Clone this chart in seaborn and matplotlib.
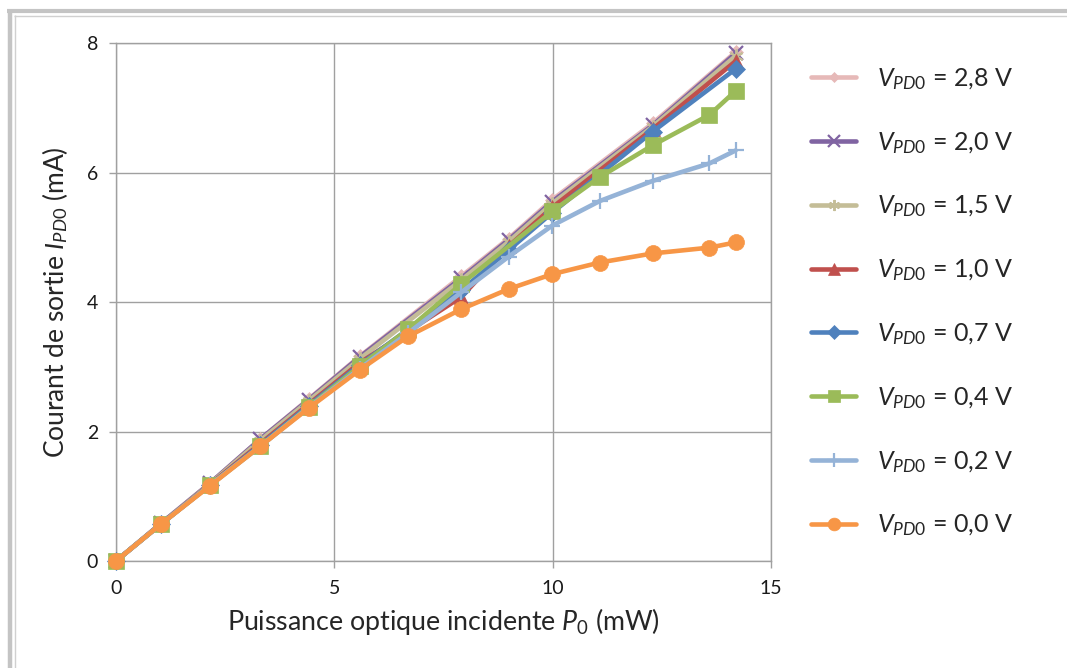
import matplotlib
matplotlib.use("Agg")
import matplotlib.pyplot as plt
from matplotlib.lines import Line2D
import seaborn as sns
import pandas as pd

# ---------------- data ----------------
v_labels = ["2,8", "2,0", "1,5", "1,0", "0,7", "0,4", "0,2", "0,0"]

x_high = [0, 1.03, 2.15, 3.30, 4.41, 5.58, 7.91, 8.99, 9.99, 12.29, 14.19]
x_v04 = [0, 1.03, 2.15, 3.30, 4.41, 5.58, 6.69, 7.91, 9.99, 11.08, 12.29, 13.59, 14.19]
x_v02 = [0, 1.03, 2.15, 3.30, 4.41, 5.58, 6.69, 7.91, 8.99, 9.99, 11.08, 12.29, 13.59, 14.19]
x_v00 = [0, 1.03, 2.15, 3.30, 4.41, 5.58, 6.69, 7.91, 8.99, 9.99, 11.08, 12.29, 13.59, 14.19]

i_v28 = [0, 0.58, 1.20, 1.88, 2.50, 3.16, 4.40, 4.98, 5.58, 6.76, 7.86]
i_v20 = [0, 0.58, 1.20, 1.88, 2.49, 3.15, 4.37, 4.96, 5.55, 6.73, 7.84]
i_v15 = [0, 0.57, 1.19, 1.86, 2.47, 3.12, 4.34, 4.93, 5.52, 6.71, 7.80]
i_v10 = [0, 0.57, 1.18, 1.81, 2.42, 3.06, 4.08, 4.86, 5.46, 6.67, 7.72]
i_v07 = [0, 0.57, 1.17, 1.79, 2.40, 3.03, 4.18, 4.80, 5.38, 6.63, 7.60]
i_v04 = [0, 0.57, 1.17, 1.77, 2.38, 3.01, 3.58, 4.28, 5.40, 5.93, 6.42, 6.89, 7.26]
i_v02 = [0, 0.57, 1.17, 1.77, 2.37, 2.97, 3.52, 4.15, 4.70, 5.18, 5.56, 5.87, 6.14, 6.34]
i_v00 = [0, 0.57, 1.16, 1.77, 2.36, 2.95, 3.47, 3.89, 4.20, 4.43, 4.61, 4.75, 4.84, 4.92]

xs = [x_high, x_high, x_high, x_high, x_high, x_v04, x_v02, x_v00]
currents = [i_v28, i_v20, i_v15, i_v10, i_v07, i_v04, i_v02, i_v00]

x_ticks = [0, 5, 10, 15]
y_ticks = [0, 2, 4, 6, 8]

# ---------------- style ----------------
sns.set_style("white")
plt.rcParams["font.family"] = ["Lato", "DejaVu Sans"]
plt.rcParams["mathtext.fontset"] = "custom"
plt.rcParams["mathtext.rm"] = "Lato"
plt.rcParams["mathtext.it"] = "Lato:italic"
plt.rcParams["mathtext.bf"] = "Lato:bold"

colors = ["#E6B9B8", "#8064A2", "#C4BD97", "#C0504D", "#4F81BD", "#9BBB59", "#95B3D7", "#F79646"]
markers = ["D", "x", (6, 2, 0), "^", "D", "s", "+", "o"]
msizes = [7, 10, 10, 10, 9, 11, 12, 11.5]
mews = [0.5, 1.6, 1.4, 0.5, 0.5, 0.5, 1.6, 0.5]

rows = []
for lab, xv_list, cur in zip(v_labels, xs, currents):
    for xv, yv in zip(xv_list, cur):
        rows.append({"P": xv, "I": yv, "V": lab})
df = pd.DataFrame(rows)

fig = plt.figure(figsize=(10.67, 6.68), dpi=100)
ax = fig.add_axes([116 / 1067, 1 - 561 / 668, (771 - 116) / 1067, (561 - 43) / 668])

for k, lab in enumerate(v_labels):
    sub = df[df["V"] == lab]
    sns.lineplot(
        data=sub, x="P", y="I", ax=ax, color=colors[k], linewidth=3.3,
        marker=markers[k], markersize=msizes[k], markeredgecolor=colors[k],
        markerfacecolor=colors[k], markeredgewidth=mews[k],
        estimator=None, sort=False, clip_on=False, zorder=3 + k,
        label=r"$\mathit{V_{PD0}}$ = " + lab + " V",
    )

ax.set_xlim(0, 15)
ax.set_ylim(0, 8)
ax.set_xticks(x_ticks)
ax.set_yticks(y_ticks)
ax.grid(True, color="#A0A0A0", linewidth=1.0)
for s in ax.spines.values():
    s.set_color("#A0A0A0")
    s.set_linewidth(1.0)
ax.tick_params(axis="both", which="major", length=5, width=1, color="#A0A0A0",
               labelsize=14, labelcolor="#1A1A1A", direction="out",
               bottom=True, left=True)
ax.tick_params(axis="x", pad=9)
ax.tick_params(axis="y", pad=8)

ax.set_xlabel(r"Puissance optique incidente $\mathit{P_0}$ (mW)", fontsize=19.3, labelpad=6)
ax.set_ylabel(r"Courant de sortie $\mathit{I_{PD0}}$ (mA)", fontsize=19, labelpad=12)

handles, labels = ax.get_legend_handles_labels()
old = ax.get_legend()
if old is not None:
    old.remove()
leg = fig.legend(handles, labels, loc="upper left", bbox_to_anchor=(811 / 1067, 1 - 66 / 668),
                 frameon=False, fontsize=18, handlelength=1.8, handletextpad=0.85,
                 labelspacing=1.52, borderpad=0, borderaxespad=0)
for h, ms in zip(leg.legend_handles, msizes):
    h.set_markersize(ms * 0.8)

# outer frame (top and left) of the chart area
fig.add_artist(Line2D([7 / 1067, 1], [1 - 11 / 668, 1 - 11 / 668], transform=fig.transFigure,
                      color="#C4C4C4", linewidth=3.0, solid_capstyle="butt"))
fig.add_artist(Line2D([9.7 / 1067, 9.7 / 1067], [0, 1 - 9 / 668], transform=fig.transFigure,
                      color="#C4C4C4", linewidth=3.2, solid_capstyle="butt"))
fig.add_artist(Line2D([14 / 1067, 1], [1 - 15.5 / 668, 1 - 15.5 / 668], transform=fig.transFigure,
                      color="#D0D0D0", linewidth=1.0, solid_capstyle="butt"))
fig.add_artist(Line2D([14.5 / 1067, 14.5 / 1067], [0, 1 - 15 / 668], transform=fig.transFigure,
                      color="#D0D0D0", linewidth=1.0, solid_capstyle="butt"))

fig.savefig("out.png", dpi=100)
